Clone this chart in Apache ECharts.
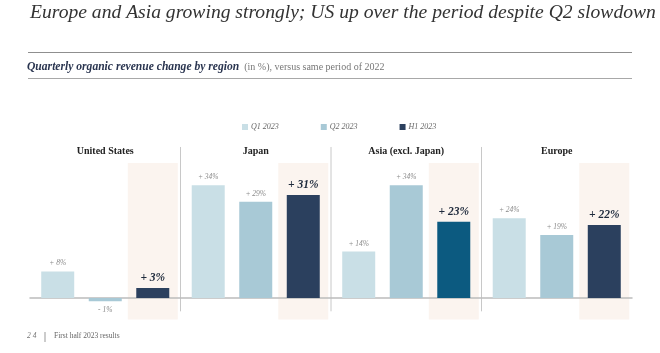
<!DOCTYPE html>
<html>
<head>
<meta charset="utf-8">
<script src="https://cdn.jsdelivr.net/npm/echarts@6/dist/echarts.min.js"></script>
<style>html,body{margin:0;padding:0;background:#fff}#c{width:660px;height:353px}</style>
</head>
<body>
<div id="c"></div>
<script>
const regions = ['United States', 'Japan', 'Asia (excl. Japan)', 'Europe'];
const seriesNames = ['Q1 2023', 'Q2 2023', 'H1 2023'];
const q1Values = [8, 34, 14, 24];
const q2Values = [-1, 29, 34, 19];
const h1Values = [3, 31, 23, 22];
const bandRange = [40.7, -6.5];      // highlight band behind H1 bars (value units)
const separatorRange = [45.5, -4];   // group separator lines (value units)

const SERIF = '"Liberation Serif", "DejaVu Serif", serif';
const BAR_W = 33, BAR_GAP = 0.44;
const C_Q1 = '#c9dfe6', C_Q2 = '#a8c9d6', C_H1 = '#2b405e', C_H1_ASIA = '#0c5a80';

function fmt(v) { return (v >= 0 ? '+ ' : '- ') + Math.abs(v) + '%'; }

function smallLabel(vals) {
  return vals.map(v => ({
    value: v,
    label: v < 0 ? { position: 'bottom', distance: 5 } : {}
  }));
}

const chart = echarts.init(document.getElementById('c'), null, { renderer: 'canvas' });
chart.setOption({
  animation: false,
  backgroundColor: '#fff',
  title: [
    { text: 'Europe and Asia growing strongly; US up over the period despite Q2 slowdown',
      left: 30, top: 3, padding: 0,
      textStyle: { fontFamily: SERIF, fontStyle: 'italic', fontWeight: 'normal', fontSize: 19.6, color: '#333' } },
    { text: '{b|Quarterly organic revenue change by region} {r|(in %), versus same period of 2022}',
      left: 27, top: 58, padding: 0,
      textStyle: { fontWeight: 'normal', rich: {
        b: { fontFamily: SERIF, fontStyle: 'italic', fontWeight: 'bold', fontSize: 11.6, color: '#2a3550' },
        r: { fontFamily: SERIF, fontWeight: 'normal', fontSize: 10, color: '#777' } } } },
    { text: '2 4', left: 27, top: 332, padding: 0,
      textStyle: { fontFamily: SERIF, fontStyle: 'italic', fontWeight: 'normal', fontSize: 7.5, color: '#777' } },
    { text: 'First half 2023 results', left: 54, top: 332, padding: 0,
      textStyle: { fontFamily: SERIF, fontWeight: 'normal', fontSize: 7.5, color: '#666' } }
  ],
  graphic: [
    { type: 'line', shape: { x1: 28, y1: 52.5, x2: 632, y2: 52.5 }, style: { stroke: '#8f8f8f', lineWidth: 1 } },
    { type: 'line', shape: { x1: 28, y1: 78.5, x2: 632, y2: 78.5 }, style: { stroke: '#a8a8a8', lineWidth: 1 } },
    { type: 'line', shape: { x1: 45, y1: 332, x2: 45, y2: 342 }, style: { stroke: '#999', lineWidth: 1 } }
  ],
  legend: {
    data: seriesNames, left: 237, top: 118, itemWidth: 6, itemHeight: 6, itemGap: 42, icon: 'rect',
    textStyle: { fontFamily: SERIF, fontStyle: 'italic', fontSize: 8, color: '#666', padding: [0, 0, 0, -2] }
  },
  grid: { left: 30, right: 28, top: 158.6, bottom: 28.4 },
  xAxis: [
    { type: 'category', data: regions, position: 'bottom',
      axisLine: { onZero: true, lineStyle: { color: '#bcbcbc', width: 1.5 } },
      axisTick: { show: false }, axisLabel: { show: false }, splitLine: { show: false } },
    { type: 'category', data: regions, position: 'top',
      axisLine: { show: false }, axisTick: { show: false },
      axisLabel: { margin: 2, fontFamily: SERIF, fontWeight: 'bold', fontSize: 10, color: '#222' } }
  ],
  yAxis: { type: 'value', min: -8, max: 42, show: false, splitLine: { show: false } },
  series: [
    { type: 'custom', name: 'band', silent: true, z: 0, clip: false, xAxisIndex: 0,
      data: regions.map((r, i) => [i, bandRange[0], bandRange[1]]),
      renderItem: function (params, api) {
        const i = api.value(0);
        const top = api.coord([i, api.value(1)]);
        const bot = api.coord([i, api.value(2)]);
        const off = BAR_W * (1 + BAR_GAP);
        const w = 50;
        const children = [{
          type: 'rect',
          shape: { x: top[0] + off - w / 2, y: top[1], width: w, height: bot[1] - top[1] },
          style: { fill: '#fbf4ef' }
        }];
        if (i > 0) {
          const half = api.size([1, 0])[0] / 2;
          const st = api.coord([i, separatorRange[0]]);
          const sb = api.coord([i, separatorRange[1]]);
          children.push({ type: 'line',
            shape: { x1: st[0] - half, y1: st[1], x2: sb[0] - half, y2: sb[1] },
            style: { stroke: '#c8c8c8', lineWidth: 1 } });
        }
        return { type: 'group', children: children };
      }
    },
    { type: 'bar', name: seriesNames[0], data: smallLabel(q1Values), barWidth: BAR_W, barGap: (BAR_GAP * 100) + '%',
      itemStyle: { color: C_Q1 }, z: 2,
      label: { show: true, position: 'top', distance: 4, formatter: p => fmt(p.value),
        fontFamily: SERIF, fontStyle: 'italic', fontSize: 7.5, color: '#8a8a8a' } },
    { type: 'bar', name: seriesNames[1], data: smallLabel(q2Values), barWidth: BAR_W, barGap: (BAR_GAP * 100) + '%',
      itemStyle: { color: C_Q2 }, z: 2,
      label: { show: true, position: 'top', distance: 4, formatter: p => fmt(p.value),
        fontFamily: SERIF, fontStyle: 'italic', fontSize: 7.5, color: '#8a8a8a' } },
    { type: 'bar', name: seriesNames[2], barWidth: BAR_W, barGap: (BAR_GAP * 100) + '%',
      data: h1Values.map((v, i) => ({ value: v, itemStyle: { color: i === 2 ? C_H1_ASIA : C_H1 } })),
      itemStyle: { color: C_H1 }, z: 2,
      label: { show: true, position: 'top', distance: 4, formatter: p => fmt(p.value),
        fontFamily: SERIF, fontStyle: 'italic', fontWeight: 'bold', fontSize: 11.5, color: '#1e2a3c' } }
  ]
});
</script>
</body>
</html>
